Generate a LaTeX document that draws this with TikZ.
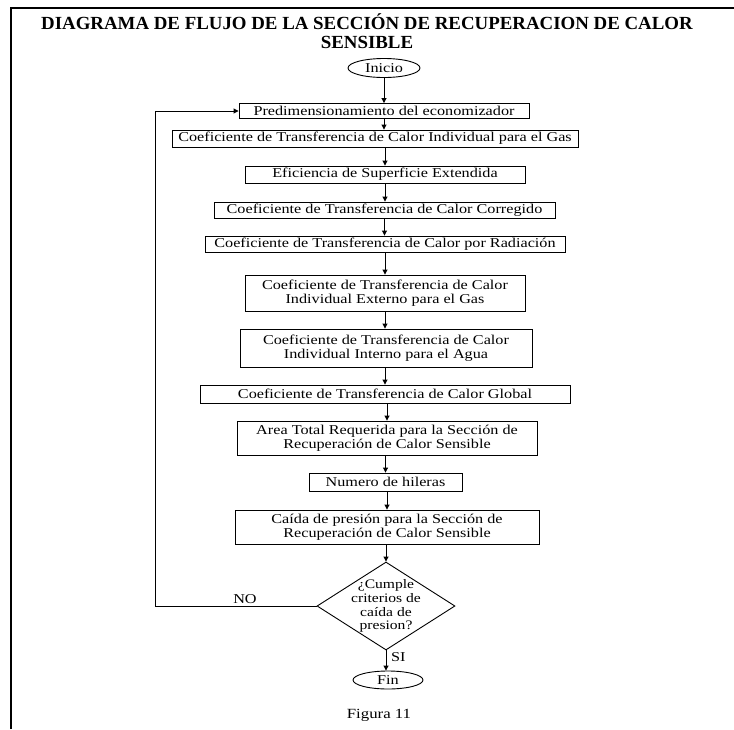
\documentclass[tikz,border=0pt]{standalone}
\usepackage{fontspec}
\setmainfont{Liberation Serif}[BoldFont={Liberation Serif Bold}]
\newfontfamily\boxfont[FakeStretch=1.2]{Liberation Serif}
\newfontfamily\titlefont[FakeStretch=1.02]{Liberation Serif Bold}
\usetikzlibrary{arrows.meta,shapes.geometric}
\begin{document}
\begin{tikzpicture}[x=1pt,y=-1pt,
  proc/.style={draw,line width=0.9pt,inner sep=0pt,align=center,
    font=\boxfont\fontsize{13.5}{14.5}\selectfont},
  term/.style={draw,ellipse,line width=0.9pt,inner sep=0pt,
    font=\boxfont\fontsize{13.5}{14.5}\selectfont},
  flow/.style={line width=0.9pt,-{Triangle[length=5pt,width=5pt]}},
  lbl/.style={inner sep=0pt,font=\boxfont\fontsize{13.5}{14.5}\selectfont}]
\useasboundingbox (0,0) rectangle (734,729);
% page frame
\draw[line width=1.5pt] (11,729) -- (11,8) -- (734,8);
% title
\node[inner sep=0pt,align=center,font=\titlefont\fontsize{18.5}{19}\selectfont] (title) at (367,31)
  {DIAGRAMA DE FLUJO DE LA SECCIÓN DE RECUPERACION DE CALOR\\SENSIBLE};
% terminals
\node[term,minimum width=72pt,minimum height=19pt] (ini) at (384,68) {Inicio};
\node[term,minimum width=70pt,minimum height=18pt] (fin) at (388,680) {Fin};
% process boxes
\node[proc,minimum width=290pt,minimum height=15pt] (b1) at (384,111) {Predimensionamiento del economizador};
\node[proc,minimum width=406pt,minimum height=17pt] (b2) at (375,138.5) {Coeficiente de Transferencia de Calor Individual para el Gas};
\node[proc,minimum width=280pt,minimum height=17pt] (b3) at (385,174.5) {Eficiencia de Superficie Extendida};
\node[proc,minimum width=341pt,minimum height=16pt] (b4) at (384.5,210) {Coeficiente de Transferencia de Calor Corregido};
\node[proc,minimum width=360pt,minimum height=16pt] (b5) at (385,244) {Coeficiente de Transferencia de Calor por Radiación};
\node[proc,minimum width=280pt,minimum height=36pt] (b6) at (385,293) {Coeficiente de Transferencia de Calor\\Individual Externo para el Gas};
\node[proc,minimum width=292pt,minimum height=38pt] (b7) at (386,348) {Coeficiente de Transferencia de Calor\\Individual Interno para el Agua};
\node[proc,minimum width=370pt,minimum height=18pt] (b8) at (385,394) {Coeficiente de Transferencia de Calor Global};
\node[proc,minimum width=300pt,minimum height=34pt] (b9) at (387,438) {Area Total Requerida para la Sección de\\Recuperación de Calor Sensible};
\node[proc,minimum width=153pt,minimum height=18pt] (b10) at (385.5,482) {Numero de hileras};
\node[proc,minimum width=304pt,minimum height=34pt] (b11) at (387,527) {Caída de presión para la Sección de\\Recuperación de Calor Sensible};
% decision
\node[draw,diamond,line width=0.9pt,inner sep=0pt,minimum width=138pt,minimum height=88pt] (dec) at (386,606) {};
\node[lbl,align=center,font=\boxfont\fontsize{13}{13.8}\selectfont] (dectext) at (dec.center) {¿Cumple\\criterios de\\caída de\\presion?};
% labels
\node[lbl] (no) at (245,599) {NO};
\node[lbl,anchor=west] (si) at (391,657) {SI};
\node[lbl,font=\boxfont\fontsize{14}{15}\selectfont] (fig) at (379,715) {Figura 11};
% connectors
\draw[flow] (ini.south) -- (ini.south |- b1.north);
\draw[flow] (b1.south) -- (b1.south |- b2.north);
\draw[flow] (b3.north |- b2.south) -- (b3.north);
\draw[flow] (b3.south) -- (b3.south |- b4.north);
\draw[flow] (b4.south) -- (b4.south |- b5.north);
\draw[flow] (b6.north |- b5.south) -- (b6.north);
\draw[flow] (b6.south) -- (b6.south |- b7.north);
\draw[flow] (b8.north |- b7.south) -- (b8.north);
\draw[flow] (b9.north |- b8.south) -- (b9.north);
\draw[flow] (b10.north |- b9.south) -- (b10.north);
\draw[flow] (b11.north |- b10.south) -- (b11.north);
\draw[flow] (dec.north |- b11.south) -- (dec.north);
\draw[flow] (dec.south) -- (dec.south |- fin.north);
\coordinate (loop) at (155,606);
\draw[flow] (dec.west) -- (loop) |- (b1.west);
\end{tikzpicture}
\end{document}
